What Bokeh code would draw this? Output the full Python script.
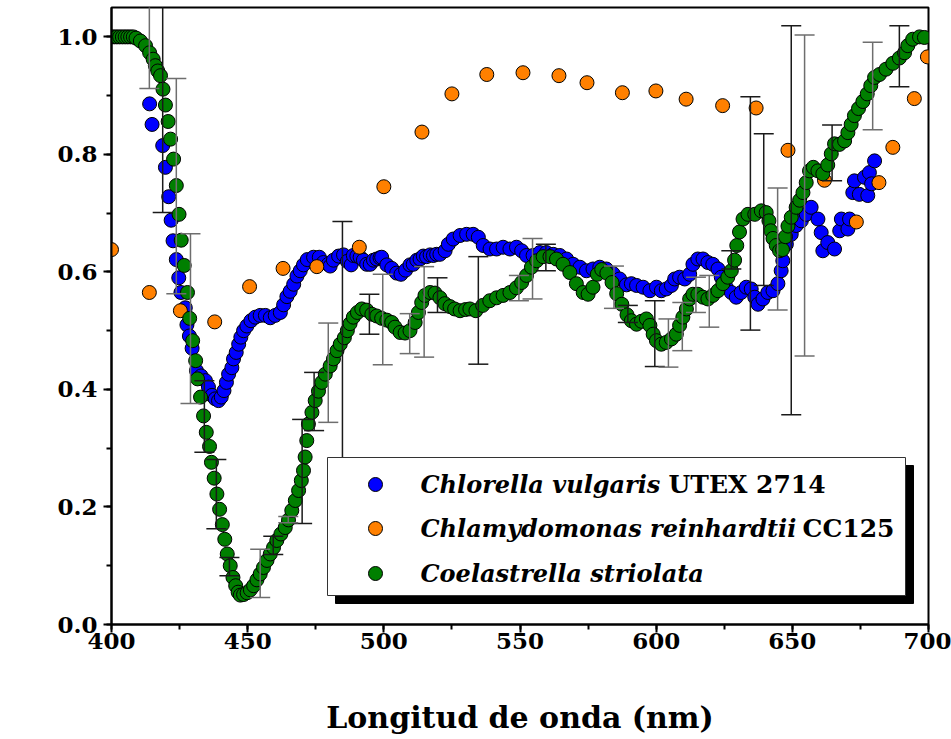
import math
from bokeh.plotting import figure
from bokeh.models import SingleIntervalTicker, PrintfTickFormatter, Label
from bokeh.core.properties import value
from bokeh.embed import file_html
from bokeh.resources import INLINE

# ---------------- data ----------------
green_x = [400, 401, 402, 403, 404, 405, 406, 407, 408, 409, 410.6, 412.5, 414.0, 415.3, 416.1, 417.0, 418.0,
           418.9, 419.8, 420.8, 421.7, 422.8, 423.8, 424.8, 425.6, 426.7, 427.9, 428.7, 429.8, 430.9, 431.6,
           432.7, 433.8, 434.8, 436.0, 436.7, 437.7, 438.7, 439.7, 440.7, 441.6, 442.5, 443.6, 444.6, 445.6,
           446.5, 447.3, 448.5, 449.8, 451.0, 452.2, 453.4, 454.6, 455.8, 457.1, 458.3, 459.5, 460.7, 462.2,
           463.8, 465.0, 466.2, 467.5, 468.7, 469.7, 470.5, 471.1, 471.7, 472.3, 473.6, 474.8, 476.0, 477.2,
           478.5, 480.3, 481.5, 482.8, 484.0, 485.5, 486.6, 487.6, 488.8, 490.3, 491.9, 493.7, 495.6, 497.4,
           499.2, 501.1, 502.9, 504.1, 506.0, 507.8, 509.6, 511.5, 512.7, 513.9, 515.1, 517.0, 518.8, 520.6,
           522.4, 524.3, 526.0, 528.0, 530.0, 531.6, 533.8, 536.3, 538.9, 541.4, 543.8, 546.3, 548.7, 550.6,
           552.4, 554.2, 556.1, 558.5, 561.0, 563.4, 565.8, 568.3, 570.7, 573.2, 575.0, 576.8, 578.4, 580.0,
           581.9, 583.8, 585.5, 587.4, 589.3, 590.9, 592.8, 594.6, 596.4, 597.7, 598.9, 600.1, 601.9, 603.7,
           605.6, 607.4, 608.6, 609.8, 611.1, 612.3, 613.5, 615.3, 617.2, 619.0, 620.8, 622.7, 624.5, 626.3,
           627.6, 628.8, 629.6, 630.6, 631.9, 633.7, 636.2, 638.6, 640.4, 641.4, 642.1, 642.9, 644.1, 645.3,
           646.4, 647.5, 648.4, 649.6, 651.4, 652.7, 653.9, 655.1, 656.3, 657.7, 659.4, 661.2, 663.0, 664.3,
           665.5, 667.3, 669.2, 670.4, 671.6, 672.8, 674.3, 675.9, 677.5, 678.8, 680.2, 682.0, 684.4, 686.9,
           689.3, 691.2, 692.4, 694.2, 696.7, 698.5]
green_y = [1.0, 1.0, 1.0, 1.0, 1.0, 1.0, 1.0, 1.0, 1.0, 0.998, 0.993, 0.985, 0.973, 0.962, 0.951, 0.942, 0.934,
           0.911, 0.884, 0.856, 0.826, 0.792, 0.747, 0.698, 0.654, 0.611, 0.565, 0.521, 0.483, 0.449, 0.418,
           0.387, 0.355, 0.327, 0.303, 0.276, 0.249, 0.222, 0.196, 0.170, 0.145, 0.120, 0.100, 0.080, 0.066,
           0.055, 0.050, 0.051, 0.054, 0.059, 0.066, 0.076, 0.086, 0.097, 0.109, 0.120, 0.131, 0.143, 0.154,
           0.165, 0.178, 0.194, 0.211, 0.228, 0.245, 0.262, 0.285, 0.313, 0.341, 0.361, 0.381, 0.397, 0.412,
           0.426, 0.440, 0.452, 0.466, 0.477, 0.488, 0.500, 0.512, 0.523, 0.531, 0.537, 0.535, 0.528, 0.525,
           0.521, 0.518, 0.514, 0.506, 0.497, 0.496, 0.500, 0.514, 0.531, 0.548, 0.560, 0.565, 0.564, 0.556,
           0.546, 0.541, 0.537, 0.534, 0.536, 0.537, 0.534, 0.543, 0.551, 0.556, 0.560, 0.565, 0.573, 0.582,
           0.594, 0.608, 0.619, 0.626, 0.626, 0.622, 0.613, 0.599, 0.580, 0.565, 0.562, 0.574, 0.596, 0.604,
           0.598, 0.582, 0.563, 0.545, 0.527, 0.517, 0.511, 0.516, 0.520, 0.509, 0.494, 0.483, 0.477, 0.480,
           0.486, 0.494, 0.509, 0.523, 0.537, 0.554, 0.562, 0.562, 0.557, 0.554, 0.560, 0.568, 0.580, 0.591,
           0.602, 0.620, 0.645, 0.668, 0.690, 0.698, 0.698, 0.704, 0.701, 0.687, 0.670, 0.657, 0.645, 0.636,
           0.638, 0.660, 0.678, 0.693, 0.710, 0.722, 0.735, 0.752, 0.772, 0.778, 0.772, 0.767, 0.782, 0.801,
           0.818, 0.817, 0.823, 0.837, 0.851, 0.866, 0.878, 0.890, 0.903, 0.917, 0.931, 0.936, 0.945, 0.955,
           0.964, 0.973, 0.985, 0.996, 1.0, 0.999]

blue_x = [414.0, 414.9, 418.8, 419.8, 421.0, 421.9, 422.6, 423.8, 424.7, 425.5, 427.1, 427.7, 428.6, 429.6,
          431.2, 432.9, 434.5, 435.6, 436.9, 438.1, 439.3, 440.3, 441.3, 442.2, 443.0, 444.2, 444.8, 445.8,
          446.7, 447.5, 448.5, 449.7, 451.2, 452.8, 454.6, 456.5, 458.3, 460.1, 462.0, 463.2, 464.4, 465.6,
          466.9, 468.1, 469.3, 470.5, 471.9, 474.2, 476.3, 477.8, 479.6, 480.3, 481.5, 483.4, 485.2, 486.6,
          488.0, 488.8, 490.1, 491.3, 492.5, 493.7, 495.0, 496.2, 497.4, 498.6, 499.2, 501.1, 502.9, 504.7,
          506.3, 508.0, 509.6, 510.8, 512.1, 513.3, 514.5, 515.7, 517.0, 518.2, 519.4, 520.6, 522.5, 523.7,
          525.5, 528.0, 530.4, 532.8, 534.7, 536.5, 539.0, 541.4, 543.8, 546.3, 548.7, 550.6, 552.4, 554.8,
          557.3, 559.7, 562.2, 564.6, 567.1, 569.5, 572.0, 574.4, 576.8, 579.3, 581.7, 584.2, 586.6, 589.1,
          590.9, 592.8, 595.2, 597.7, 600.1, 601.9, 603.7, 605.6, 606.8, 608.6, 610.5, 612.3, 613.5, 615.3,
          617.2, 619.0, 620.8, 622.7, 623.9, 625.7, 627.6, 629.4, 631.2, 633.1, 634.9, 636.2, 637.4, 639.2,
          641.0, 642.9, 644.7, 645.9, 646.5, 647.8, 649.6, 651.4, 653.3, 655.1, 656.9, 659.4, 660.6, 661.2,
          663.0, 665.5, 667.4, 668.0, 670.4, 671.0, 672.2, 672.8, 674.6, 676.5, 677.7, 678.3, 679.1, 680.2]
blue_y = [0.886, 0.851, 0.815, 0.778, 0.728, 0.688, 0.653, 0.621, 0.590, 0.565, 0.539, 0.510, 0.491, 0.470,
          0.432, 0.423, 0.415, 0.404, 0.390, 0.384, 0.381, 0.387, 0.398, 0.412, 0.426, 0.437, 0.452, 0.463,
          0.477, 0.489, 0.500, 0.508, 0.517, 0.523, 0.526, 0.526, 0.522, 0.526, 0.531, 0.544, 0.558, 0.567,
          0.579, 0.593, 0.602, 0.612, 0.621, 0.625, 0.625, 0.616, 0.613, 0.610, 0.620, 0.627, 0.629, 0.618,
          0.612, 0.628, 0.627, 0.625, 0.620, 0.613, 0.613, 0.620, 0.622, 0.624, 0.625, 0.612, 0.606, 0.598,
          0.596, 0.603, 0.612, 0.613, 0.620, 0.622, 0.627, 0.626, 0.629, 0.628, 0.630, 0.630, 0.636, 0.647,
          0.656, 0.662, 0.664, 0.664, 0.659, 0.645, 0.639, 0.639, 0.642, 0.639, 0.642, 0.636, 0.628, 0.628,
          0.633, 0.633, 0.630, 0.628, 0.622, 0.613, 0.608, 0.602, 0.605, 0.608, 0.605, 0.597, 0.588, 0.578,
          0.580, 0.577, 0.574, 0.568, 0.574, 0.568, 0.571, 0.577, 0.588, 0.591, 0.588, 0.596, 0.613, 0.622,
          0.622, 0.616, 0.613, 0.605, 0.591, 0.574, 0.565, 0.557, 0.565, 0.574, 0.571, 0.557, 0.545, 0.554,
          0.565, 0.568, 0.580, 0.602, 0.619, 0.647, 0.664, 0.679, 0.687, 0.698, 0.710, 0.690, 0.667, 0.636,
          0.650, 0.639, 0.670, 0.690, 0.673, 0.690, 0.735, 0.755, 0.732, 0.761, 0.730, 0.769, 0.750, 0.789]

orange_x = [400.0, 413.9, 425.3, 437.9, 450.7, 463.0, 475.4, 491.0, 500.0, 514.0, 525.0, 537.8, 551.1, 564.3,
            574.6, 587.6, 599.9, 611.0, 624.4, 636.7, 648.4, 661.8, 673.5, 681.8, 686.9, 694.8, 699.6]
orange_y = [0.638, 0.565, 0.534, 0.515, 0.575, 0.606, 0.609, 0.642, 0.745, 0.838, 0.903, 0.936, 0.939, 0.934,
            0.922, 0.905, 0.908, 0.894, 0.883, 0.879, 0.807, 0.756, 0.685, 0.752, 0.812, 0.895, 0.966]

# error bars (dark and light groups)
err_dark_x = [418.8, 434.1, 438.5, 443.3, 459.4, 470.0, 474.4, 484.8, 494.7, 519.7, 534.7, 559.5, 589.6,
              599.5, 627.6, 634.6, 639.5, 649.6, 664.6, 689.3]
err_dark_lo = [0.701, 0.293, 0.163, 0.083, 0.119, 0.172, 0.330, 0.270, 0.494, 0.531, 0.443, 0.602, 0.514,
               0.439, 0.605, 0.501, 0.577, 0.357, 0.755, 0.915]
err_dark_hi = [1.100, 0.415, 0.281, 0.114, 0.150, 0.349, 0.429, 0.686, 0.562, 0.590, 0.626, 0.647, 0.543,
               0.551, 0.636, 0.898, 0.835, 1.019, 0.850, 1.019]
err_gray_x = [413.9, 423.8, 429.0, 454.6, 464.9, 479.6, 499.6, 509.5, 514.8, 549.6, 554.6, 584.5, 604.5,
              609.6, 614.6, 619.5, 644.6, 654.5, 679.5]
err_gray_lo = [0.912, 0.563, 0.376, 0.046, 0.173, 0.344, 0.442, 0.461, 0.455, 0.551, 0.554, 0.538, 0.438,
               0.466, 0.531, 0.506, 0.535, 0.457, 0.842]
err_gray_hi = [1.100, 0.929, 0.665, 0.128, 0.184, 0.513, 0.596, 0.529, 0.609, 0.594, 0.657, 0.610, 0.520,
               0.548, 0.591, 0.594, 0.743, 1.003, 0.991]

series_names_main = ["Chlorella vulgaris", "Chlamydomonas reinhardtii", "Coelastrella striolata"]
series_names_extra = ["UTEX 2714", "CC125", ""]
series_colors = ["#0000FF", "#FF8000", "#007F00"]

x_ticks_interval = 50
y_ticks_interval = 0.2

# ---------------- layout helpers ----------------
W, H = 951, 739
L, R, T, B = 111, 23, 7, 115
X0, X1, Y0, Y1 = 400, 700, 0.0, 1.05
fw, fh = W - L - R, H - T - B


def px2x(px):
    return X0 + (px - L) * (X1 - X0) / fw


def py2y(py):
    return Y0 + (H - B - py) * (Y1 - Y0) / fh


SERIF = "DejaVu Serif"

p = figure(width=W, height=H, x_range=(X0, X1), y_range=(Y0, Y1),
           output_backend="svg", toolbar_location=None,
           min_border_left=L, min_border_right=R, min_border_top=T, min_border_bottom=B)
p.xgrid.visible = False
p.ygrid.visible = False
p.outline_line_color = "black"
p.outline_line_width = 2
p.background_fill_color = "white"
p.border_fill_color = "white"

p.xaxis.ticker = SingleIntervalTicker(interval=x_ticks_interval, num_minor_ticks=2)
p.yaxis.ticker = SingleIntervalTicker(interval=y_ticks_interval, num_minor_ticks=2)
p.yaxis.formatter = PrintfTickFormatter(format="%.1f")
for ax in (p.xaxis[0], p.yaxis[0]):
    ax.axis_line_width = 2
    ax.major_tick_line_width = 2
    ax.minor_tick_line_width = 2
    ax.major_tick_in = 0
    ax.major_tick_out = 8
    ax.minor_tick_in = 0
    ax.minor_tick_out = 5
    ax.major_label_text_font = SERIF
    ax.major_label_text_font_style = "bold"
    ax.major_label_text_font_size = "23px"
    ax.major_label_text_color = "black"
p.xaxis.major_label_standoff = 0
p.yaxis.major_label_standoff = 6
p.xaxis.axis_label = "Longitud de onda (nm)"
p.xaxis.axis_label_text_font = SERIF
p.xaxis.axis_label_text_font_style = "bold"
p.xaxis.axis_label_text_font_size = "30px"
p.xaxis.axis_label_text_color = "black"
p.xaxis.axis_label_standoff = 48

MS = 14
p.scatter(blue_x, blue_y, size=MS, fill_color=series_colors[0], line_color="black", line_width=1)
p.scatter(orange_x, orange_y, size=MS, fill_color=series_colors[1], line_color="black", line_width=1)
p.scatter(green_x, green_y, size=MS, fill_color=series_colors[2], line_color="black", line_width=1)

for ex, lo, hi, col in ((err_dark_x, err_dark_lo, err_dark_hi, "#1a1a1a"),
                        (err_gray_x, err_gray_lo, err_gray_hi, "#6e6e6e")):
    p.segment(x0=ex, y0=lo, x1=ex, y1=hi, line_color=col, line_width=1.5)
    p.scatter(ex, lo, marker="dash", size=20, line_color=col, line_width=1.5)
    p.scatter(ex, hi, marker="dash", size=20, line_color=col, line_width=1.5)

# legend box with shadow
p.quad(left=[px2x(335)], right=[px2x(913)], top=[py2y(465)], bottom=[py2y(603)],
       fill_color="black", line_color="black")
p.quad(left=[px2x(327)], right=[px2x(905)], top=[py2y(457)], bottom=[py2y(595)],
       fill_color="white", line_color="#333333", line_width=1)
rows_py = [484, 528, 573]
p.scatter([px2x(375)] * 3, [py2y(v) for v in rows_py], size=MS,
          fill_color=series_colors, line_color="black", line_width=1)
p.text(x=[px2x(420)] * 3, y=[py2y(v) for v in rows_py], text=series_names_main,
       text_font=value(SERIF), text_font_style="bold italic", text_font_size="24px",
       text_baseline="middle", text_align="left", text_color="black")
p.text(x=[px2x(668), px2x(802)], y=[py2y(rows_py[0]), py2y(rows_py[1])], text=series_names_extra[:2],
       text_font=value(SERIF), text_font_style="bold", text_font_size="25px",
       text_baseline="middle", text_align="left", text_color="black")

# y axis label: omega with subscript lambda
p.add_layout(Label(x=px2x(31), y=py2y(330), text="ω", angle=math.pi / 2,
                   text_align="center", text_baseline="middle", text_font=SERIF,
                   text_font_style="bold", text_font_size="30px", text_color="black"))
p.add_layout(Label(x=px2x(40), y=py2y(310), text="λ", angle=math.pi / 2,
                   text_align="center", text_baseline="middle", text_font=SERIF,
                   text_font_style="bold", text_font_size="19px", text_color="black"))

open("out.html", "w").write(file_html(p, INLINE))
